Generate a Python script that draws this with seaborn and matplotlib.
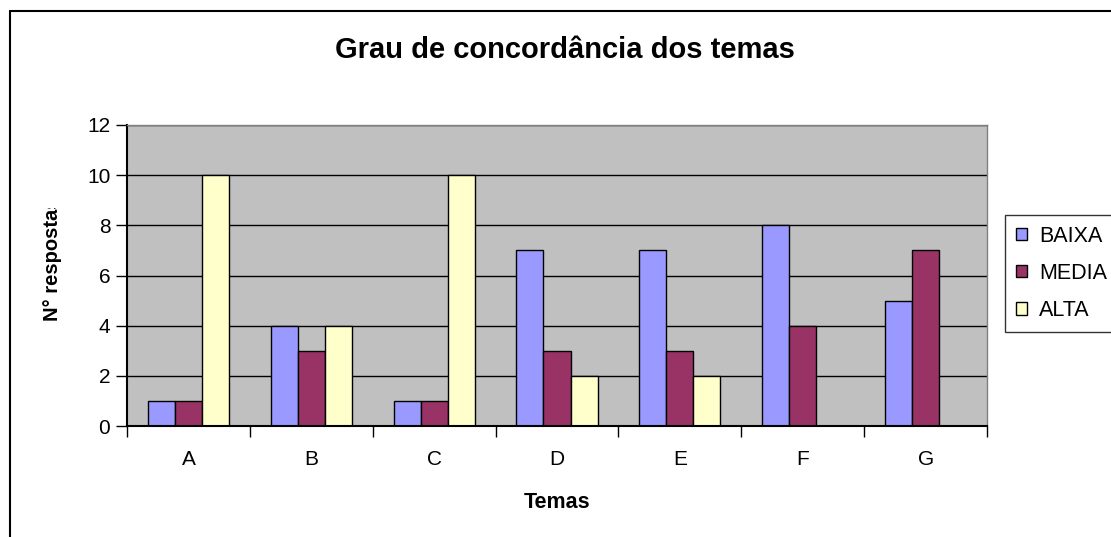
import matplotlib
matplotlib.use("Agg")
import matplotlib.pyplot as plt
import seaborn as sns
import pandas as pd
from matplotlib.lines import Line2D
from matplotlib.patches import Patch
from matplotlib.transforms import Bbox, TransformedBbox
from matplotlib.ticker import FixedLocator, NullFormatter

categories = ["A", "B", "C", "D", "E", "F", "G"]
series = ["BAIXA", "MEDIA", "ALTA"]
baixa = [1, 4, 1, 7, 7, 8, 5]
media = [1, 3, 1, 3, 3, 4, 7]
alta = [10, 4, 10, 2, 2, 0, 0]
colors = ["#9999FF", "#993366", "#FFFFCC"]

rows = []
for s, vals in zip(series, [baixa, media, alta]):
    for c, v in zip(categories, vals):
        rows.append({"Temas": c, "Serie": s, "Valor": v})
df = pd.DataFrame(rows)

sns.set_theme(style="white")
plt.rcParams["font.family"] = ["Liberation Sans", "DejaVu Sans"]

fig = plt.figure(figsize=(11.11, 5.37), dpi=100)
ax = fig.add_axes([127/1111, 1-426/537, (987-127)/1111, (426-125)/537])
ax.set_facecolor("#C0C0C0")

sns.barplot(data=df, x="Temas", y="Valor", hue="Serie", order=categories,
            hue_order=series, palette=colors, width=0.66, edgecolor="black",
            linewidth=1, saturation=1, ax=ax, legend=False, errorbar=None)

for p in ax.patches:
    if p.get_height() == 0:
        p.set_visible(False)

ax.set_ylim(0, 12)
ax.set_xlim(-0.5, 6.5)
ax.set_yticks(range(0, 13, 2))
ax.yaxis.grid(True, color="black", linewidth=1)
ax.set_axisbelow(True)
ax.tick_params(axis="y", which="major", direction="out", length=8, width=1,
               color="black", left=True, labelsize=15, pad=4)
ax.tick_params(axis="x", which="major", length=0, labelsize=15, pad=17)
ax.xaxis.set_minor_locator(FixedLocator([i - 0.5 for i in range(8)]))
ax.xaxis.set_minor_formatter(NullFormatter())
ax.tick_params(axis="x", which="minor", direction="out", length=8, width=1,
               color="black", bottom=True)
for lab in ax.get_xticklabels() + ax.get_yticklabels():
    lab.set_color("black")

for side in ["top", "right"]:
    ax.spines[side].set_color("#808080")
    ax.spines[side].set_linewidth(1)
for side in ["left", "bottom"]:
    ax.spines[side].set_color("black")
    ax.spines[side].set_linewidth(1.5)

ax.set_xlabel("Temas", fontsize=15.5, fontweight="bold", labelpad=17, color="black")
ax.set_ylabel("")

fig.text(565/1111, 1-50/537, "Grau de concordância dos temas", ha="center",
         va="center", fontsize=21, fontweight="bold", color="black")

yl = fig.text(52/1111, 1-321/537, "N° respostas", rotation=90, ha="center",
              va="bottom", fontsize=14.5, fontweight="bold", color="black")
yl.set_clip_box(TransformedBbox(Bbox([[0, 0], [1, 1-208/537]]), fig.transFigure))
yl.set_clip_on(True)

handles = [Patch(facecolor=c, edgecolor="black", linewidth=1) for c in colors]
leg = fig.legend(handles, series, loc="upper left",
                 bbox_to_anchor=(1005/1111, 1-215/537), frameon=True,
                 fancybox=False, shadow=False, fontsize=15.5, handlelength=0.5,
                 handleheight=0.5, handletextpad=0.6, borderpad=0.5,
                 labelspacing=0.75, borderaxespad=0)
leg.get_frame().set_edgecolor("black")
leg.get_frame().set_linewidth(1)
for t in leg.get_texts():
    t.set_color("black")

fig.add_artist(Line2D([10/1111, 10/1111], [0, 1-11/537], color="black",
                      linewidth=1.5, transform=fig.transFigure))
fig.add_artist(Line2D([10/1111, 1], [1-11/537, 1-11/537], color="black",
                      linewidth=1.5, transform=fig.transFigure))

fig.savefig("out.png", dpi=100, facecolor="white")
